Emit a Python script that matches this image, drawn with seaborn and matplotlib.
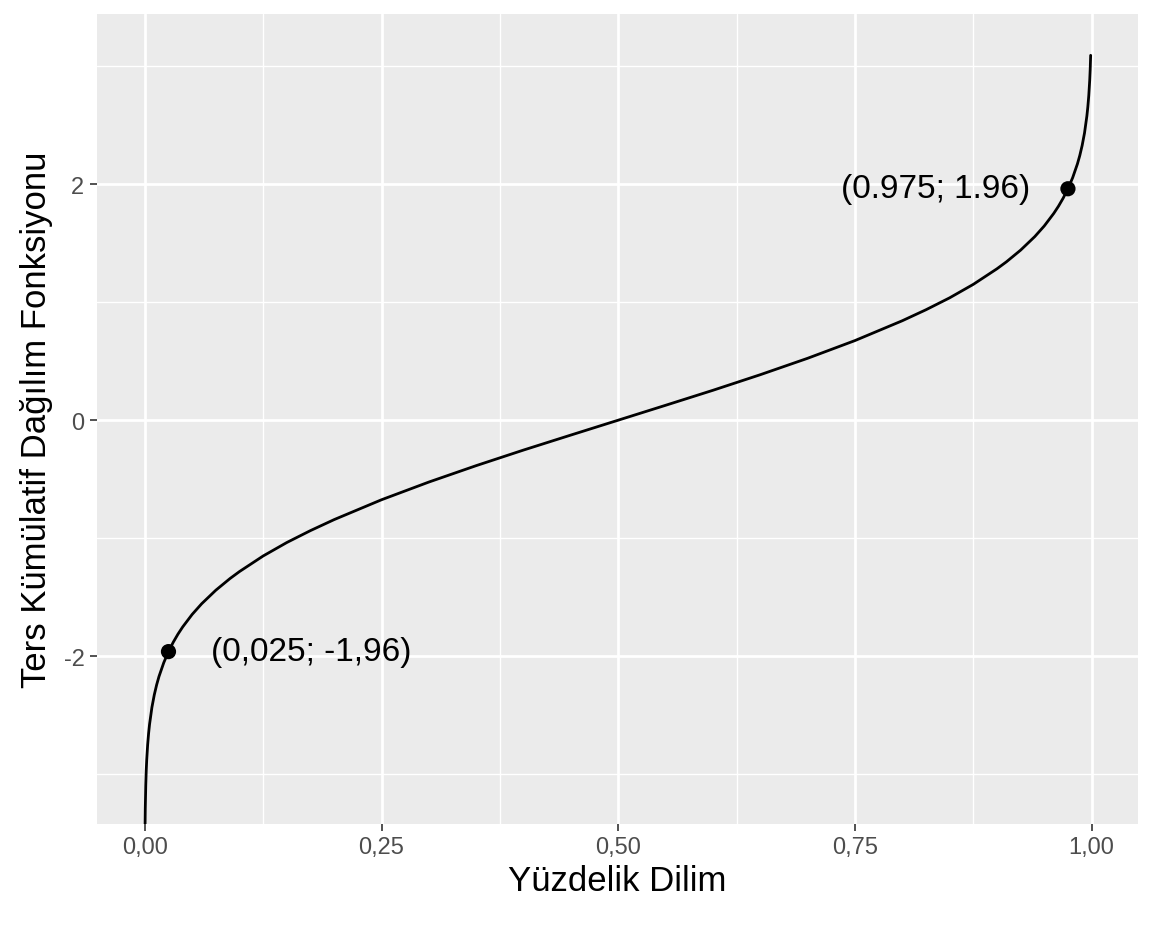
import matplotlib.pyplot as plt
import seaborn as sns
from matplotlib.ticker import FixedLocator

# values
percentile = [0.0003, 0.0005, 0.001, 0.0015, 0.002, 0.003, 0.004, 0.005, 0.0075, 0.01,
              0.0125, 0.015, 0.02, 0.025, 0.03, 0.035, 0.04, 0.05, 0.06, 0.075, 0.09, 0.1,
              0.125, 0.15, 0.175, 0.2, 0.25, 0.3, 0.35, 0.4, 0.45, 0.5, 0.55, 0.6, 0.65,
              0.7, 0.75, 0.8, 0.825, 0.85, 0.875, 0.9, 0.91, 0.925, 0.94, 0.95, 0.96,
              0.965, 0.97, 0.975, 0.98, 0.985, 0.9875, 0.99, 0.9925, 0.995, 0.996, 0.997,
              0.998, 0.9985, 0.999]
quantile = [-3.432, -3.29, -3.09, -2.968, -2.878, -2.748, -2.652, -2.576, -2.432, -2.326,
            -2.241, -2.170, -2.054, -1.960, -1.881, -1.812, -1.751, -1.645, -1.555, -1.440,
            -1.341, -1.282, -1.150, -1.036, -0.935, -0.842, -0.674, -0.524, -0.385, -0.253,
            -0.126, 0.0, 0.126, 0.253, 0.385, 0.524, 0.674, 0.842, 0.935, 1.036, 1.150,
            1.282, 1.341, 1.440, 1.555, 1.645, 1.751, 1.812, 1.881, 1.960, 2.054, 2.170,
            2.241, 2.326, 2.432, 2.576, 2.652, 2.748, 2.878, 2.968, 3.09]
marked_p = [0.025, 0.975]
marked_q = [-1.96, 1.96]
labels = ["(0,025; -1,96)", "(0.975; 1.96)"]

sns.set_style("darkgrid", {"axes.facecolor": "#EBEBEB", "grid.color": "white"})
plt.rcParams["font.family"] = ["Liberation Sans", "DejaVu Sans"]

fig = plt.figure(figsize=(11.52, 9.28), dpi=100)
ax = fig.add_axes([97 / 1152, 1 - 825 / 928, (1138 - 97) / 1152, (825 - 15) / 928])

sns.lineplot(x=percentile, y=quantile, color="black", linewidth=2, ax=ax, sort=False)
sns.scatterplot(x=marked_p, y=marked_q, color="black", s=120, edgecolor="none", ax=ax, zorder=3)
ax.text(marked_p[0] + 0.045, marked_q[0], labels[0], fontsize=24, va="center", ha="left", color="black")
ax.text(marked_p[1] - 0.04, marked_q[1], labels[1], fontsize=24, va="center", ha="right", color="black")

ax.set_xlim(-0.0505, 1.049)
ax.set_ylim(-3.42, 3.44)
ax.set_xticks([0, 0.25, 0.5, 0.75, 1.0])
ax.set_xticklabels(["0,00", "0,25", "0,50", "0,75", "1,00"])
ax.set_yticks([-2, 0, 2])
ax.set_yticklabels(["-2", "0", "2"])
ax.xaxis.set_minor_locator(FixedLocator([0.125, 0.375, 0.625, 0.875]))
ax.yaxis.set_minor_locator(FixedLocator([-3, -1, 1, 3]))
ax.grid(which="major", color="white", linewidth=2)
ax.grid(which="minor", color="white", linewidth=1)
ax.tick_params(which="major", bottom=True, left=True, length=5, width=1.2, color="#333333",
               labelsize=17, labelcolor="#4D4D4D", pad=4)
ax.tick_params(which="minor", length=0)
for s in ax.spines.values():
    s.set_visible(False)
ax.set_xlabel("Yüzdelik Dilim", fontsize=25, labelpad=4, color="black")
ax.set_ylabel("Ters Kümülatif Dağılım Fonksiyonu", fontsize=25, labelpad=8, color="black")

fig.savefig("out.png", dpi=100)
